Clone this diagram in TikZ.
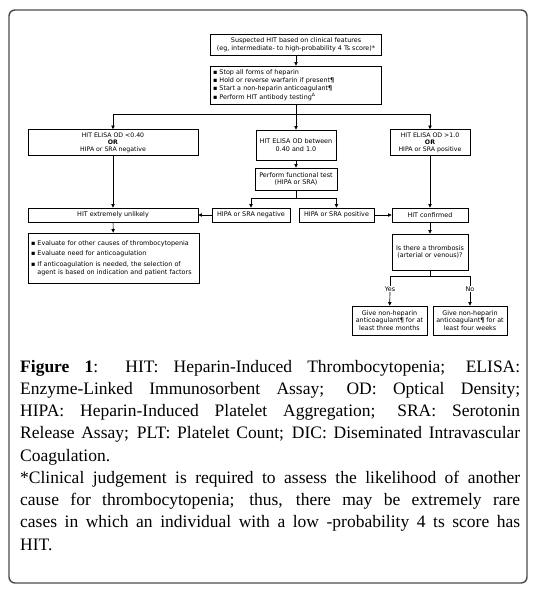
\documentclass[tikz,border=0pt]{standalone}
\usepackage{fontspec}
\setmainfont{Liberation Serif}
\newfontfamily\flowfont{DejaVu Sans}
\usetikzlibrary{arrows.meta}
\begin{document}
\begin{tikzpicture}[x=1pt,y=-1pt,
  box/.style={draw, line width=0.7pt, inner sep=1pt, align=center,
    font=\flowfont\fontsize{6.4}{7.6}\selectfont},
  tbox/.style={box, font=\flowfont\fontsize{6.2}{7.1}\selectfont},
  lbox/.style={box, align=left, inner xsep=2.5pt},
  lbl/.style={inner sep=0.5pt, font=\flowfont\fontsize{6.4}{7.6}\selectfont},
  conn/.style={line width=0.7pt},
  arr/.style={conn, -{Triangle[length=3.6pt,width=3.4pt]}},
  capline/.style={anchor=base west, inner sep=0pt, font=\fontsize{17.5}{22.25}\selectfont},
  frame/.style={draw=black!70, line width=1.4pt, rounded corners=6pt}]
\useasboundingbox (0,0) rectangle (533,594);
\draw[frame] (9,10) rectangle (527,583);

% flowchart nodes
\node[box, minimum width=171, minimum height=21] (top) at (296,44.5)
  {Suspected HIT based on clinical features\\(eg, intermediate- to high-probability 4 Ts score)*};
\node[lbox, text width=166, minimum height=38] (bul) at (296,85)
  {▪ Stop all forms of heparin\\[0.6pt]
   ▪ Hold or reverse warfarin if present\textbf{¶}\\[0.6pt]
   ▪ Start a non-heparin anticoagulant\textbf{¶}\\[0.6pt]
   ▪ Perform HIT antibody testing\textsuperscript{Δ}};
\node[tbox, minimum width=170, minimum height=26] (b1) at (113,142.5)
  {HIT ELISA OD <0.40\\\textbf{OR}\\HIPA or SRA negative};
\node[box, minimum width=80, minimum height=30] (b2) at (296,145)
  {HIT ELISA OD between\\0.40 and 1.0};
\node[tbox, minimum width=80, minimum height=26] (b3) at (430,142.5)
  {HIT ELISA OD >1.0\\\textbf{OR}\\HIPA or SRA positive};
\node[box, minimum width=82, minimum height=22] (func) at (296,179)
  {Perform functional test\\(HIPA or SRA)};
\node[box, minimum width=78, minimum height=14] (neg) at (251,215) {HIPA or SRA negative};
\node[box, minimum width=75, minimum height=14] (pos) at (336.5,215) {HIPA or SRA positive};
\node[box, minimum width=170, minimum height=14] (unl) at (113,215) {HIT extremely unlikely};
\node[box, minimum width=76, minimum height=14] (conf) at (430,215) {HIT confirmed};
\node[lbox, inner xsep=3pt, text width=165, minimum height=50] (ev) at (113.5,258)
  {▪ Evaluate for other causes of thrombocytopenia\\[3pt]
   ▪ Evaluate need for anticoagulation\\[3pt]
   ▪ If anticoagulation is needed, the selection of\\
   \phantom{▪ }agent is based on indication and patient factors};
\node[box, minimum width=76, minimum height=36] (thr) at (430,252)
  {Is there a thrombosis\\(arterial or venous)?};
\node[lbl] (yes) at (390,289) {Yes};
\node[lbl] (no) at (470,289) {No};
\node[box, minimum width=75, minimum height=29] (yesb) at (389.5,320.5)
  {Give non-heparin\\anticoagulant\textbf{¶} for at\\least three months};
\node[box, minimum width=74, minimum height=29] (nob) at (470,320.5)
  {Give non-heparin\\anticoagulant\textbf{¶} for at\\least four weeks};

% junctions
\coordinate (j1) at (296,114);
\coordinate (j2) at (296,198);
\coordinate (j3) at (430,276);

% connectors
\draw[arr] (top) -- (bul);
\draw[conn] (bul) -- (j1);
\draw[arr] (j1) -| (b1);
\draw[arr] (j1) -- (b2);
\draw[arr] (j1) -| (b3);
\draw[arr] (b2) -- (func);
\draw[conn] (func) -- (j2);
\draw[arr] (j2) -| (neg);
\draw[arr] (j2) -| (pos);
\draw[arr] (b1) -- (unl);
\draw[arr] (neg) -- (unl);
\draw[arr] (pos) -- (conf);
\draw[arr] (b3) -- (conf);
\draw[arr] (unl) -- (ev);
\draw[arr] (conf) -- (thr);
\draw[conn] (thr) -- (j3);
\draw[conn] (j3) -| (yes.north);
\draw[conn] (j3) -| (no.north);
\draw[arr] (yes) -- (yesb);
\draw[arr] (no) -- (nob);

% caption
\node[capline] (cap1) at (20,372) {\makebox[500pt][s]{\textbf{Figure 1}: HIT: Heparin-Induced Thrombocytopenia; ELISA:}};
\node[capline] (cap2) at (20,394.25) {\makebox[500pt][s]{Enzyme-Linked Immunosorbent Assay; OD: Optical Density;}};
\node[capline] (cap3) at (20,416.5) {\makebox[500pt][s]{HIPA: Heparin-Induced Platelet Aggregation; SRA: Serotonin}};
\node[capline] (cap4) at (20,438.75) {\makebox[500pt][s]{Release Assay; PLT: Platelet Count; DIC: Diseminated Intravascular}};
\node[capline] (cap5) at (20,461) {Coagulation.};
\node[capline] (cap6) at (20,483.25) {\makebox[500pt][s]{*Clinical judgement is required to assess the likelihood of another}};
\node[capline] (cap7) at (20,505.5) {\makebox[500pt][s]{cause for thrombocytopenia; thus, there may be extremely rare}};
\node[capline] (cap8) at (20,527.75) {\makebox[500pt][s]{cases in which an individual with a low -probability 4 ts score has}};
\node[capline] (cap9) at (20,550) {HIT.};
\end{tikzpicture}
\end{document}
